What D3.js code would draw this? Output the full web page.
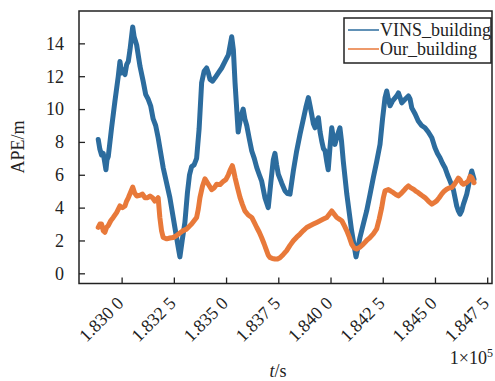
<!DOCTYPE html>
<html><head><meta charset="utf-8">
<script src="https://cdn.jsdelivr.net/npm/d3@7"></script>
<style>
html,body{margin:0;padding:0;background:#fff;}
text{font-family:"Liberation Serif","Times New Roman",serif;fill:#222;}
</style></head>
<body><svg id="c" width="495" height="381"></svg>
<script>
const seriesNames = ["VINS_building", "Our_building"];
const seriesColors = ["#2c6c9e", "#e8793a"];
const xTicks = [183000, 183250, 183500, 183750, 184000, 184250, 184500, 184750];
const xTickLabels = ["1.830 0","1.832 5","1.835 0","1.837 5","1.840 0","1.842 5","1.845 0","1.847 5"];
const yTicks = [0, 2, 4, 6, 8, 10, 12, 14];

const vinsT = [182888,182896,182904,182912,182920,182925,182930,182936,182952,182968,182984,182992,183000,183008,183016,183024,183032,183040,183053,183060,183072,183088,183103,183115,183127,183139,183151,183163,183175,183199,183231,183255,183271,183279,183290,183303,183315,183325,183335,183347,183359,183371,183383,183395,183407,183415,183423,183435,183447,183463,183479,183495,183511,183527,183535,183543,183558,183570,183582,183590,183599,183611,183623,183635,183647,183659,183670,183686,183702,183714,183726,183734,183742,183750,183766,183782,183794,183806,183822,183838,183854,183870,183882,183894,183902,183910,183918,183926,183934,183942,183950,183958,183966,183974,183982,183989,183997,184006,184014,184021,184033,184045,184053,184061,184078,184101,184122,184141,184157,184173,184189,184205,184221,184237,184249,184261,184269,184277,184285,184297,184309,184317,184325,184333,184341,184357,184373,184381,184389,184405,184420,184436,184452,184468,184485,184500,184512,184524,184536,184548,184560,184572,184588,184596,184604,184612,184620,184628,184636,184644,184652,184660,184668,184676,184687];
const vinsV = [8.15,7.55,7.2,7.3,6.7,6.3,6.9,7.1,8.86,10.48,12.0,12.9,12.2,12.4,12.1,12.7,12.9,13.6,15.0,14.4,13.9,12.6,11.7,10.9,10.6,10.2,9.4,9.0,8.25,6.43,4.61,2.79,1.58,1.0,2.0,3.1,4.9,6.0,6.5,6.6,7.0,8.8,11.6,12.3,12.5,12.2,11.8,11.7,11.9,12.2,12.5,12.9,13.3,14.4,13.6,11.6,8.6,9.5,10.0,9.4,9.0,8.2,7.45,7.0,6.43,6.0,5.63,4.61,4.0,5.5,6.9,7.3,6.6,6.03,5.5,5.02,4.85,4.82,6.23,7.45,8.46,9.4,10.1,10.7,10.2,9.67,9.1,8.86,9.3,9.47,8.6,8.05,7.6,7.45,6.8,6.3,7.6,8.86,8.2,7.85,8.4,8.86,8.0,6.84,4.82,2.59,1.0,2.18,3.0,3.8,4.8,5.83,6.8,7.85,9.4,10.7,11.1,10.6,10.2,10.5,10.68,10.8,10.98,10.7,10.38,10.6,10.8,10.6,10.07,9.7,9.27,9.0,8.86,8.6,8.25,7.65,7.3,7.04,6.7,6.43,6.0,5.63,5.1,4.6,4.1,3.8,3.6,3.8,4.2,4.5,4.82,5.3,5.83,6.23,5.73];

const ourT = [182888,182896,182904,182912,182920,182928,182936,182948,182960,182976,182992,183004,183016,183024,183032,183042,183053,183062,183072,183088,183100,183112,183124,183136,183148,183159,183168,183175,183183,183191,183199,183216,183231,183247,183263,183279,183295,183311,183323,183335,183347,183359,183367,183375,183387,183399,183415,183431,183443,183455,183471,183487,183499,183511,183520,183530,183537,183543,183555,183567,183578,183590,183606,183623,183635,183647,183659,183670,183682,183694,183702,183710,183722,183734,183746,183758,183774,183790,183806,183822,183838,183854,183870,183886,183902,183918,183934,183950,183966,183982,183994,184006,184018,184030,184042,184054,184066,184078,184090,184101,184113,184125,184141,184157,184173,184189,184205,184221,184233,184245,184253,184261,184277,184289,184301,184313,184325,184337,184350,184362,184373,184385,184397,184408,184420,184436,184452,184468,184485,184496,184508,184520,184532,184544,184556,184568,184580,184592,184604,184612,184620,184628,184636,184648,184660,184668,184676,184687];
const ourV = [2.8,3.0,3.0,2.6,2.5,2.8,2.9,3.2,3.4,3.7,4.1,4.0,4.1,4.4,4.6,4.9,5.25,4.9,4.71,4.75,4.82,4.6,4.6,4.71,4.6,4.4,4.5,4.6,3.4,2.6,2.18,2.1,2.15,2.18,2.3,2.45,2.6,2.69,2.85,3.0,3.2,3.4,3.9,4.61,5.3,5.75,5.42,5.1,5.2,5.42,5.4,5.6,5.7,6.0,6.3,6.55,6.2,5.83,5.2,4.61,4.2,3.8,3.55,3.4,3.1,2.79,2.5,2.18,1.8,1.38,1.1,0.97,0.9,0.87,0.87,0.95,1.15,1.38,1.7,1.98,2.2,2.39,2.6,2.79,2.9,3.0,3.1,3.2,3.3,3.4,3.6,3.8,3.6,3.4,3.3,3.2,2.9,2.59,2.2,1.78,1.55,1.48,1.6,1.78,2.0,2.18,2.4,2.7,3.3,4.0,4.6,5.02,5.1,5.0,4.91,4.8,4.71,4.85,5.02,5.2,5.32,5.2,5.12,5.0,4.91,4.75,4.61,4.4,4.21,4.3,4.41,4.6,4.82,5.0,5.12,5.2,5.22,5.4,5.63,5.8,5.7,5.5,5.42,5.5,5.63,5.9,5.83,5.52];

const svg = d3.select("#c");
const L = 79, R = 492, T = 11, B = 283.5;
const x = d3.scaleLinear().domain([182796, 184773]).range([L, R]);
const y = d3.scaleLinear().domain([-0.62, 15.97]).range([B, T]);

const line = d3.line().x(d => x(d[0])).y(d => y(d[1]));
const data = [d3.zip(vinsT, vinsV), d3.zip(ourT, ourV)];
const g = svg.append("g");
data.forEach((d, i) => {
  g.append("path").datum(d).attr("d", line).attr("fill", "none")
    .attr("stroke", seriesColors[i]).attr("stroke-width", 5).attr("stroke-linejoin", "round")
    .attr("stroke-linecap", "round");
});

// axes (inward ticks)
const xa = svg.append("g").attr("transform", `translate(0,${B})`)
  .call(d3.axisBottom(x).tickValues(xTicks).tickSize(-6).tickFormat(""));
const ya = svg.append("g").attr("transform", `translate(${L},0)`)
  .call(d3.axisLeft(y).tickValues(yTicks).tickSize(-6).tickFormat(""));
[xa, ya].forEach(a => { a.select(".domain").remove(); a.selectAll("line").attr("stroke", "#222").attr("stroke-width", 1.3); });

svg.append("rect").attr("x", L).attr("y", T).attr("width", R - L).attr("height", B - T)
  .attr("fill", "none").attr("stroke", "#222").attr("stroke-width", 1.5);

yTicks.forEach(v => {
  svg.append("text").attr("x", 64).attr("y", y(v)).attr("dy", "0.35em")
    .attr("text-anchor", "end").attr("font-size", 18).text(v);
});
xTicks.forEach((v, i) => {
  svg.append("text").attr("transform", `translate(${x(v) + 3},${B + 21}) rotate(-45)`)
    .attr("text-anchor", "end").attr("font-size", 18).text(xTickLabels[i]);
});
svg.append("text").attr("x", 493).attr("y", 364).attr("text-anchor", "end").attr("font-size", 18)
  .html('1×10<tspan dy="-7" font-size="12">5</tspan>');
svg.append("text").attr("x", 278).attr("y", 377).attr("text-anchor", "middle").attr("font-size", 18)
  .html('<tspan font-style="italic">t</tspan>/s');
svg.append("text").attr("transform", "translate(24,147) rotate(-90)").attr("text-anchor", "middle")
  .attr("font-size", 18).text("APE/m");

// legend
const lg = svg.append("g");
lg.append("rect").attr("x", 344).attr("y", 18).attr("width", 147).attr("height", 45)
  .attr("fill", "#fff").attr("stroke", "#222").attr("stroke-width", 1.5);
seriesNames.forEach((n, i) => {
  const yy = 30 + i * 19;
  lg.append("line").attr("x1", 348).attr("x2", 379).attr("y1", yy).attr("y2", yy)
    .attr("stroke", seriesColors[i]).attr("stroke-width", 1.5);
  lg.append("text").attr("x", 380).attr("y", yy).attr("dy", "0.35em").attr("font-size", 18).text(n);
});
</script></body></html>
